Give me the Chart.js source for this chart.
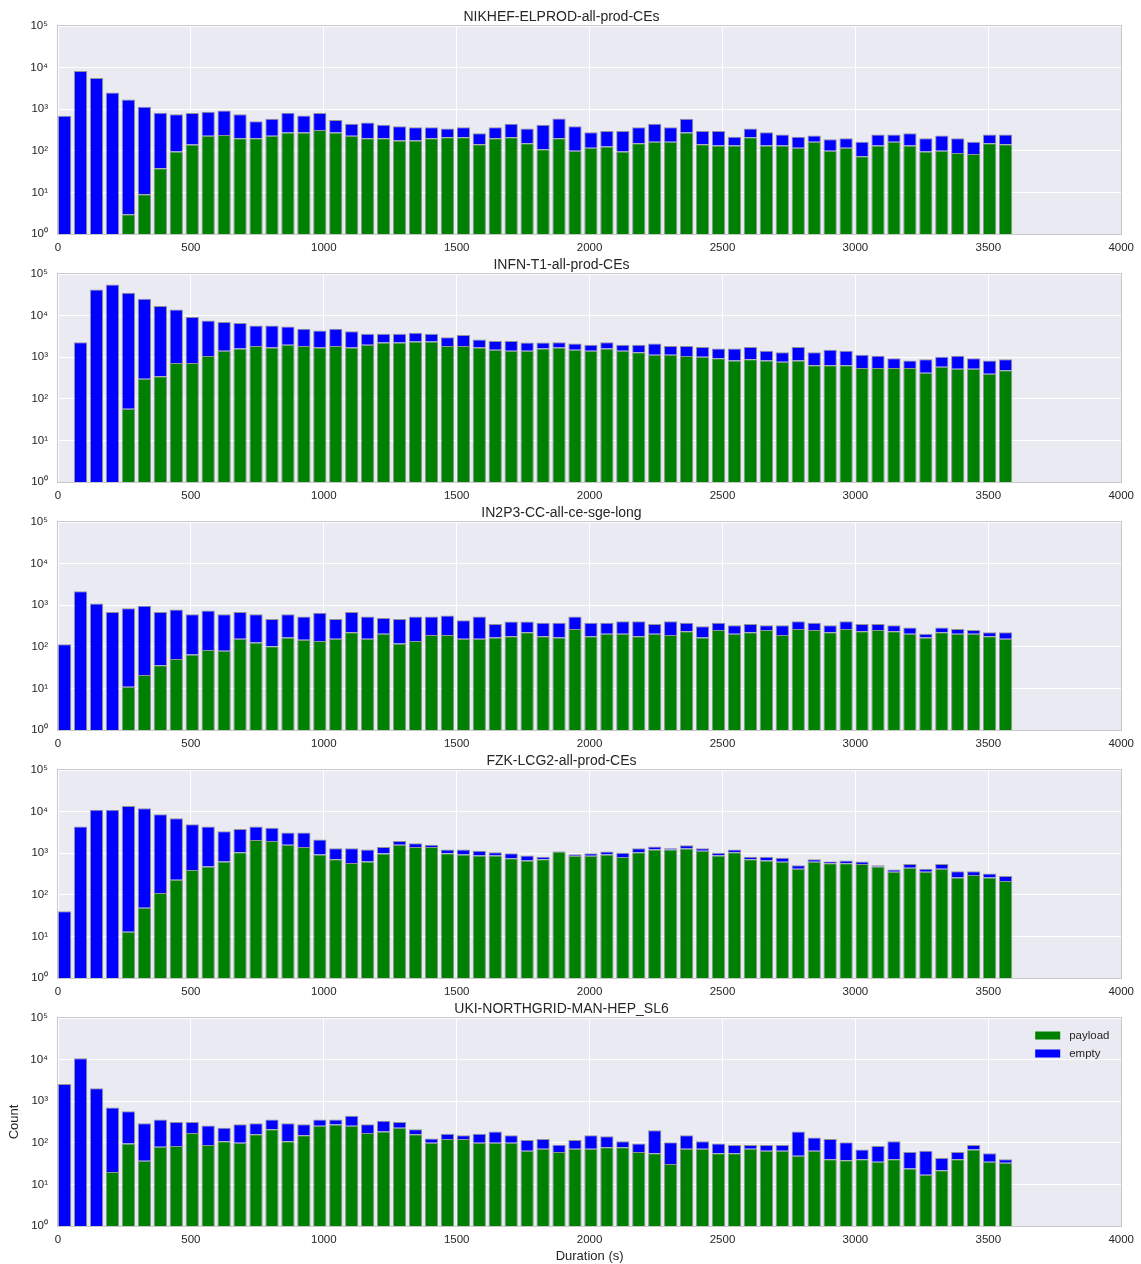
<!DOCTYPE html>
<html>
<head>
<meta charset="utf-8">
<script src="https://cdn.jsdelivr.net/npm/chart.js@4.4.1/dist/chart.umd.min.js"></script>
<style>
html,body{margin:0;padding:0;background:#ffffff;}
#wrap{position:relative;width:1141px;height:1264px;overflow:hidden;}
#wrap canvas{position:absolute;left:0;}
</style>
</head>
<body>
<div id="wrap"></div>
<script>
// ---------- data ----------
const binStart = [0,60,120,180,240,300,360,420,480,540,600,660,720,780,840,900,960,1020,1080,1140,
  1200,1260,1320,1380,1440,1500,1560,1620,1680,1740,1800,1860,1920,1980,2040,2100,2160,2220,2280,2340,
  2400,2460,2520,2580,2640,2700,2760,2820,2880,2940,3000,3060,3120,3180,3240,3300,3360,3420,3480,3540];
const xTickValues = [0,500,1000,1500,2000,2500,3000,3500,4000];
const xTickLabels = ['0','500','1000','1500','2000','2500','3000','3500','4000'];
const yTickValues = [1,10,100,1000,10000,100000];
const yTickLabels = ['10\u2070','10\u00b9','10\u00b2','10\u00b3','10\u2074','10\u2075'];
const seriesNames = ['payload','empty'];
const panelTitles = ['NIKHEF-ELPROD-all-prod-CEs','INFN-T1-all-prod-CEs','IN2P3-CC-all-ce-sge-long','FZK-LCG2-all-prod-CEs','UKI-NORTHGRID-MAN-HEP_SL6'];
const xAxisTitle = 'Duration (s)';
const yAxisTitle = 'Count';

const nikhefPayload = [0,0,0,0,3,9,38,96,141,230, 240,200,200,230,275,275,318,275,230,200,
  200,177,177,200,212,212,144,200,212,152, 109,200,100,118,126,96,152,164,164,275,
  144,134,134,212,134,134,118,164,100,118, 74,134,164,134,96,100,89,84,152,144];
const nikhefEmpty = [692,8300,5600,2520,1707,1131,782,664,664,635, 690,560,315,360,545,435,487,275,215,280,
  220,213,193,170,133,158,121,170,233,193, 311,400,290,162,174,204,218,281,206,315,
  156,166,83,133,146,112,99,69,90,82, 90,112,82,131,104,133,111,80,94,102];

const infnPayload = [0,0,0,0,58,303,347,730,730,1070, 1420,1620,1850,1700,2000,1850,1700,1850,1700,2000,
  2250,2250,2400,2400,1850,1850,1700,1500,1420,1420, 1620,1700,1500,1420,1620,1420,1320,1150,1150,1070,
  1020,950,830,890,830,775,830,640,640,640, 550,550,550,550,425,590,525,525,400,485];
const infnEmpty = [0,2300,42600,56000,35440,25000,16550,13270,8570,6530, 5580,4980,3950,4100,3500,2950,2700,2950,2500,1650,
  1400,1400,1450,1250,1150,1550,950,950,1030,830, 630,600,640,580,680,580,680,990,720,800,
  730,670,790,860,590,545,920,680,860,780, 600,540,400,280,465,430,565,425,430,405];

const in2p3Payload = [0,0,0,0,11,21,36,51,65,84, 80,156,127,103,167,147,137,156,223,156,
  206,120,137,192,192,156,156,167,180,223, 180,167,267,180,206,206,180,206,192,235,
  167,252,206,223,252,192,267,252,223,267, 235,252,235,206,167,223,206,206,180,156];
const in2p3Empty = [115,2150,1100,690,838,949,654,739,545,661, 530,534,483,362,443,388,518,309,467,379,
  289,345,398,343,373,279,379,188,225,182, 200,213,268,200,174,204,230,149,218,145,
  143,128,124,132,78,138,143,128,107,143, 120,103,95,84,39,67,61,46,43,67];

const fzkPayload = [0,0,0,0,13,49,110,230,395,478, 630,1060,2080,1960,1600,1410,930,720,585,630,
  990,1600,1410,1410,1000,930,880,880,760,670, 720,1100,870,870,930,810,1060,1230,1230,1300,
  1140,880,1060,720,670,620,420,620,575,575, 550,478,360,450,360,420,262,300,262,214];
const fzkEmpty = [40,4370,11100,11100,13590,11950,8490,6720,4600,3890, 2750,2770,2290,2110,1540,1730,1200,600,735,600,
  420,360,320,190,230,300,260,180,240,210, 100,15,80,130,170,210,260,210,90,250,
  180,140,170,100,150,155,90,100,55,95, 80,32,45,100,60,130,108,70,63,68];

const ukiPayload = [0,0,0,20,96,37,80,84,173,89, 109,100,160,213,109,152,256,275,256,173,
  187,230,160,100,124,124,100,100,100,64, 72,60,72,72,78,78,60,56,31,72,
  72,56,56,72,64,64,49,64,40,38, 40,35,40,24,17,22,40,69,35,33];
const ukiEmpty = [2600,10800,2040,690,479,258,285,234,145,171, 121,180,135,152,186,128,109,90,189,107,
  151,88,53,26,40,28,64,87,52,53, 52,30,45,80,66,31,36,144,72,80,
  37,40,33,17,25,25,138,70,84,65, 29,49,69,36,47,21,20,20,21,7];

// ---------- styling / layout ----------
const FONT = '"Liberation Sans", Arial, Helvetica, sans-serif';
const TEXT = '#262626';
const BIN_W = 60, BAR_W = 50;
const PANEL_STEP = 248;
const PLOT_BOTTOM = 234; // within each canvas
Chart.defaults.font.family = FONT;
Chart.defaults.color = TEXT;

const panels = [
  {title: panelTitles[0], payload: nikhefPayload, empty: nikhefEmpty},
  {title: panelTitles[1], payload: infnPayload, empty: infnEmpty},
  {title: panelTitles[2], payload: in2p3Payload, empty: in2p3Empty},
  {title: panelTitles[3], payload: fzkPayload, empty: fzkEmpty},
  {title: panelTitles[4], payload: ukiPayload, empty: ukiEmpty}
];

const bgPlugin = {
  id: 'plotBg',
  beforeDraw(chart) {
    const a = chart.chartArea, ctx = chart.ctx;
    ctx.save();
    ctx.fillStyle = '#EAEAF2';
    ctx.fillRect(a.left, a.top, a.right - a.left, a.bottom - a.top);
    ctx.restore();
  },
  beforeDatasetsDraw(chart) {
    const a = chart.chartArea, ctx = chart.ctx;
    ctx.save();
    ctx.strokeStyle = '#c8c8cc';
    ctx.lineWidth = 1;
    ctx.strokeRect(Math.round(a.left) - 0.5, Math.round(a.top) - 0.5, Math.round(a.right - a.left) + 1, Math.round(a.bottom - a.top) + 1);
    ctx.restore();
  }
};

const insideLegend = {
  id: 'insideLegend',
  afterDraw(chart) {
    const a = chart.chartArea, ctx = chart.ctx;
    ctx.save();
    ctx.font = '11.5px ' + FONT;
    ctx.textBaseline = 'middle';
    ctx.textAlign = 'left';
    chart.data.datasets.forEach((d, k) => {
      const yc = a.top + 17.5 + k * 18;
      const x0 = a.right - 86;
      ctx.fillStyle = d.backgroundColor;
      ctx.fillRect(x0, yc - 4, 25, 8);
      ctx.fillStyle = TEXT;
      ctx.fillText(d.label, x0 + 34, yc);
    });
    ctx.restore();
  }
};

const wrap = document.getElementById('wrap');
panels.forEach((p, i) => {
  const last = i === panels.length - 1;
  const H = last ? 272 : 270;
  const cv = document.createElement('canvas');
  cv.width = 1141; cv.height = H;
  cv.style.width = '1141px'; cv.style.height = H + 'px';
  cv.style.top = (PANEL_STEP * i) + 'px';
  wrap.appendChild(cv);

  const mk = (arr) => binStart.map((s, j) => ({x: s + BAR_W / 2, y: arr[j]}));
  new Chart(cv.getContext('2d'), {
    type: 'bar',
    data: {
      datasets: [
        {label: seriesNames[0], data: mk(p.payload), backgroundColor: '#008000',
         borderColor: 'rgba(40,40,40,0.45)', borderWidth: 1},
        {label: seriesNames[1], data: mk(p.empty), backgroundColor: '#0000ff',
         borderColor: 'rgba(40,40,40,0.45)', borderWidth: 1}
      ]
    },
    options: {
      responsive: false,
      animation: false,
      devicePixelRatio: 1,
      categoryPercentage: 1,
      barPercentage: BAR_W / BIN_W,
      layout: {padding: {left: 0, right: 18, top: 0, bottom: 0}},
      plugins: {
        legend: {display: false},
        tooltip: {enabled: false},
        title: {
          display: true, text: p.title, color: TEXT,
          font: {size: 14, weight: 'normal', lineHeight: 1, family: FONT},
          padding: {top: 10, bottom: 2}
        }
      },
      scales: {
        x: {
          type: 'linear', min: 0, max: 4000, stacked: true, offset: false,
          grid: {color: '#ffffff', lineWidth: 1, drawTicks: false, offset: false},
          border: {display: false},
          ticks: {
            stepSize: 500, autoSkip: false, maxRotation: 0, padding: 7,
            color: TEXT, font: {size: 11.5, family: FONT},
            callback: (v) => xTickLabels[xTickValues.indexOf(v)]
          },
          title: {display: last, text: xAxisTitle, color: TEXT,
                  font: {size: 13, family: FONT}, padding: {top: 0, bottom: 0}},
          afterFit: (s) => { s.height = H - PLOT_BOTTOM; }
        },
        y: {
          type: 'logarithmic', min: 1, max: 100000, stacked: true,
          grid: {color: '#ffffff', lineWidth: 1, drawTicks: false},
          border: {display: false},
          afterBuildTicks: (s) => { s.ticks = yTickValues.map(v => ({value: v})); },
          ticks: {
            padding: 10, color: TEXT, font: {size: 11.5, family: FONT},
            callback: (v) => yTickLabels[yTickValues.indexOf(v)]
          },
          title: {display: last, text: yAxisTitle, color: TEXT,
                  font: {size: 13, family: FONT}, padding: {top: 7, bottom: 0}},
          afterFit: (s) => { s.width = 58; }
        }
      }
    },
    plugins: last ? [bgPlugin, insideLegend] : [bgPlugin]
  });
});
</script>
</body>
</html>
